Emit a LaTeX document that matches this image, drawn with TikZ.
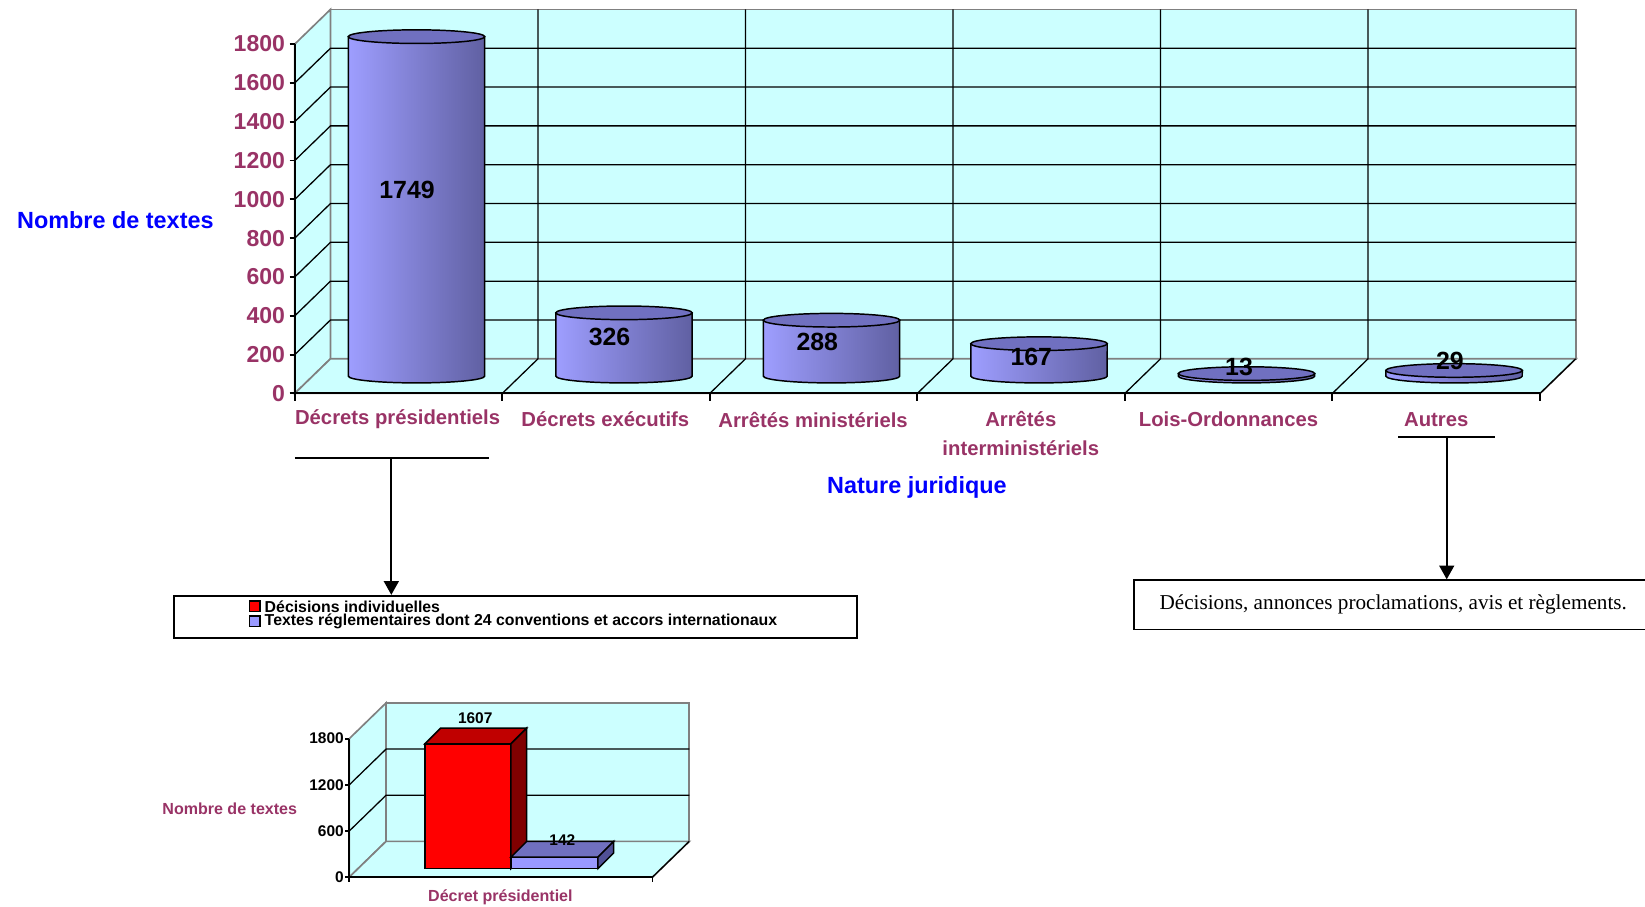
\documentclass[tikz,border=0pt]{standalone}
\usepackage{fontspec}
\setmainfont{Liberation Sans}
\newfontfamily\timesfont{Liberation Serif}
\usetikzlibrary{arrows.meta, positioning}
\definecolor{wallcolor}{RGB}{204,255,255}
\definecolor{edgecolor}{RGB}{128,128,128}
\definecolor{labelcolor}{RGB}{153,51,102}
\definecolor{titlecolor}{RGB}{0,0,255}
\definecolor{cylleft}{RGB}{158,158,255}
\definecolor{cylmid}{RGB}{132,132,222}
\definecolor{cylright}{RGB}{96,96,162}
\definecolor{cyltop}{RGB}{112,112,192}
\definecolor{redfront}{RGB}{255,0,0}
\definecolor{redtop}{RGB}{192,0,0}
\definecolor{redside}{RGB}{128,0,0}
\definecolor{bluefront}{RGB}{153,153,255}
\definecolor{bluetop}{RGB}{112,112,192}
\definecolor{blueside}{RGB}{80,80,150}

\begin{document}
\begin{tikzpicture}[
    x=0.02cm, y=0.02cm,
    wall/.style={fill=wallcolor, draw=edgecolor, line width=0.9pt},
    grid/.style={black, line width=0.7pt},
    axis/.style={black, line width=1pt},
    tick/.style={font=\fontsize{12.5}{14}\selectfont\bfseries, text=labelcolor, anchor=east, inner sep=0pt},
    catlabel/.style={font=\fontsize{11}{15.4}\selectfont\bfseries, text=labelcolor, align=center, inner sep=0pt},
    axtitle/.style={font=\fontsize{12.7}{15}\selectfont\bfseries, text=titlecolor, inner sep=0pt},
    value/.style={font=\fontsize{13.5}{16}\selectfont\bfseries, inner sep=0pt},
    smalltick/.style={font=\fontsize{8.4}{10}\selectfont\bfseries, anchor=east, inner sep=0pt},
    smalllabel/.style={font=\fontsize{8.7}{10}\selectfont\bfseries, text=labelcolor, inner sep=0pt},
    smallvalue/.style={font=\fontsize{8.4}{10}\selectfont\bfseries, inner sep=0pt},
    legtext/.style={font=\fontsize{8.6}{10}\selectfont\bfseries, anchor=west, inner sep=0pt},
    legmark/.style={draw, line width=0.8pt, minimum size=0.2cm, inner sep=0pt},
    bar/.style={draw=black, line width=0.8pt},
    box/.style={draw, line width=0.9pt, inner sep=0pt},
    arrow/.style={-{Triangle[width=0.28cm, length=0.26cm]}, line width=1.1pt},
]
\useasboundingbox (0,0) rectangle (1568,-864);
\fill[white] (0,0) rectangle (1568,-864);

% ============ Main chart: walls ============
\filldraw[wall] (315,-9) rectangle (1502,-342);
\filldraw[wall] (281,-42) -- (315,-9) -- (315,-342) -- (281,-375) -- cycle;
\filldraw[wall] (281,-375) -- (315,-342) -- (1502,-342) -- (1468,-375) -- cycle;

% grid
\foreach \v in {200,400,...,1600}
  \draw[grid] (281,{-375+\v*0.185}) -- (315,{-342+\v*0.185}) -- (1502,{-342+\v*0.185});
\foreach \k in {1,...,5}
  \draw[grid] ({281+\k*197.8},-375) -- ({315+\k*197.8},-342) -- ({315+\k*197.8},-9);
\draw[grid] (1468,-375) -- (1502,-342);

% axes
\draw[axis] (281,-42) -- (281,-375) -- (1468,-375);
\foreach \v in {0,200,...,1800} {
  \draw[axis] (276,{-375+\v*0.185}) -- (281,{-375+\v*0.185});
  \node[tick] (ytick\v) at (272,{-375+\v*0.185}) {\v};
}
\foreach \k in {0,...,6}
  \draw[axis] ({281+\k*197.8},-375) -- ({281+\k*197.8},-382);

% ============ Cylinders ============
\foreach \k/\v in {0/1749,1/326,2/288,3/167,4/13,5/29} {
  \pgfmathsetmacro{\cx}{397+\k*197.8}
  \pgfmathsetmacro{\ctop}{-358.5+\v*0.185}
  \shade[left color=cylleft, middle color=cylmid, right color=cylright, bar]
    ({\cx-65},\ctop) -- ({\cx-65},-358.5)
    arc[start angle=180, end angle=360, x radius=1.3cm, y radius=0.13cm]
    -- ({\cx+65},\ctop) -- cycle;
  \filldraw[fill=cyltop, bar] (\cx,\ctop) ellipse[x radius=1.3cm, y radius=0.13cm];
}

\node[value] (val1) at (388,-181) {1749};
\node[value] (val2) at (581,-321) {326};
\node[value] (val3) at (779,-326) {288};
\node[value] (val4) at (983,-340) {167};
\node[value] (val5) at (1181,-350) {13};
\node[value] (val6) at (1382,-344) {29};

% ============ Labels ============
\node[catlabel] (cat1) at (379,-400) {Décrets présidentiels};
\node[catlabel] (cat2) at (577,-400) {Décrets exécutifs};
\node[catlabel] (cat3) at (775,-400) {Arrêtés ministériels};
\node[catlabel, anchor=north] (cat4) at (973,-392) {Arrêtés\\interministériels};
\node[catlabel] (cat5) at (1171,-400) {Lois-Ordonnances};
\node[catlabel] (cat6) at (1369,-400) {Autres};

\node[axtitle] (ytitle) at (110,-210) {Nombre de textes};
\node[axtitle] (xtitle) at (874,-465) {Nature juridique};

% ============ Legend and note ============
\node[box, line width=1.1pt, minimum width=13.02cm, minimum height=0.8cm] (legend) at (491.5,-588) {};
\node[legmark, fill=redfront] (mark1) at (243,-578) {};
\node[legmark, fill=bluefront] (mark2) at (243,-592) {};
\node[legtext] (leg1) at (252,-578) {Décisions individuelles};
\node[legtext] (leg2) at (252,-592) {Textes réglementaires dont 24 conventions et accors internationaux};

\node[box, minimum width=9.88cm, minimum height=0.94cm, font=\timesfont\fontsize{11.5}{13}\selectfont]
  (note) at (1328,-576.5) {\raisebox{-0.35ex}{Décisions, annonces proclamations, avis et règlements.}};

\coordinate (decL) at (281,-437);
\coordinate (decR) at (466,-437);
\coordinate (decM) at (373,-437);
\coordinate (autL) at (1333,-417);
\coordinate (autR) at (1425,-417);
\coordinate (autM) at (1379,-417);

\draw[line width=1.1pt] (decL) -- (decR);
\draw[line width=1.1pt] (autL) -- (autR);
\draw[arrow] (decM) -- (decM |- legend.north);
\draw[arrow] (autM) -- (autM |- note.north);

% ============ Small chart ============
\filldraw[wall] (368,-670) rectangle (657,-802);
\filldraw[wall] (333,-704) -- (368,-670) -- (368,-802) -- (333,-836) -- cycle;
\filldraw[wall] (333,-836) -- (368,-802) -- (657,-802) -- (622,-836) -- cycle;
\foreach \v in {600,1200}
  \draw[grid] (333,{-836+\v*0.0733}) -- (368,{-802+\v*0.0733}) -- (657,{-802+\v*0.0733});
\draw[grid] (622,-836) -- (657,-802);
\draw[axis] (333,-704) -- (333,-836) -- (622,-836);
\foreach \v in {0,600,1200,1800} {
  \draw[axis] (329,{-836+\v*0.0733}) -- (333,{-836+\v*0.0733});
  \node[smalltick] (stick\v) at (328,{-836+\v*0.0733}) {\v};
}
\draw[axis] (333,-836) -- (333,-841);
\draw[axis] (622,-836) -- (622,-841);

% red bar
\filldraw[fill=redfront, bar] (405,-709) rectangle (487,-828);
\filldraw[fill=redtop, bar] (405,-709) -- (420,-694) -- (502,-694) -- (487,-709) -- cycle;
\filldraw[fill=redside, bar] (487,-709) -- (502,-694) -- (502,-813) -- (487,-828) -- cycle;
% blue bar
\filldraw[fill=bluefront, bar] (487,-817) rectangle (570,-828);
\filldraw[fill=bluetop, bar] (487,-817) -- (502,-802) -- (585,-802) -- (570,-817) -- cycle;
\filldraw[fill=blueside, bar] (570,-817) -- (585,-802) -- (585,-813) -- (570,-828) -- cycle;

\node[smallvalue] (sval1) at (453,-685) {1607};
\node[smallvalue] (sval2) at (536,-801) {142};
\node[smalllabel] (sytitle) at (219,-771) {Nombre de textes};
\node[smalllabel] (sxtitle) at (477,-855) {Décret présidentiel};

\end{tikzpicture}
\end{document}
